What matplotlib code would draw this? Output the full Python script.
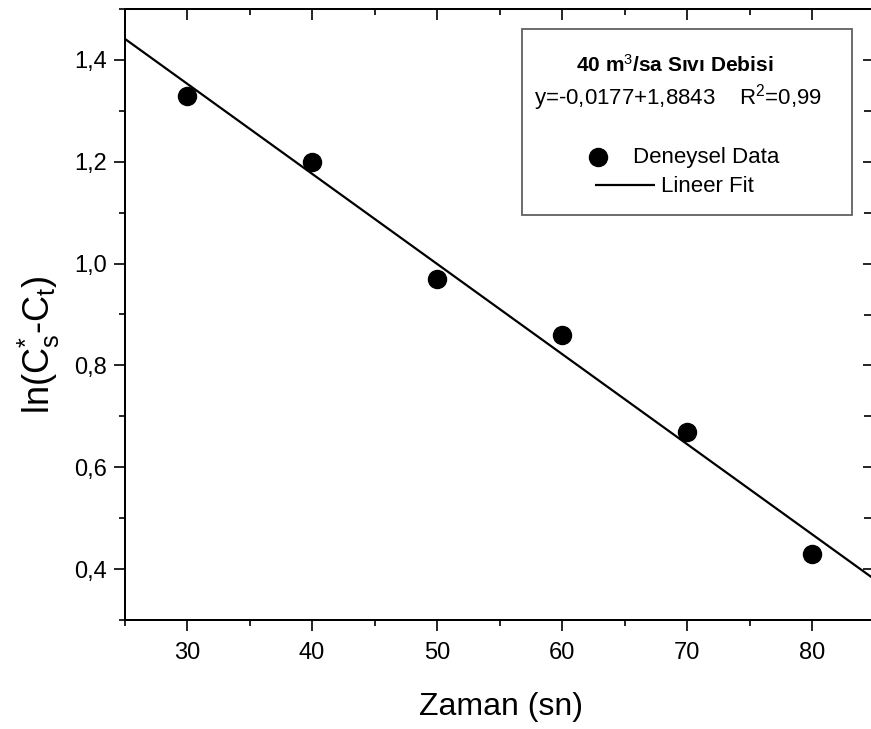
import matplotlib
matplotlib.use("Agg")
import matplotlib.pyplot as plt
from matplotlib.patches import Rectangle
from matplotlib.ticker import MultipleLocator, FixedLocator, FuncFormatter

plt.rcParams['font.family'] = ['Liberation Sans', 'DejaVu Sans']
plt.rcParams['mathtext.fontset'] = 'custom'
plt.rcParams['mathtext.rm'] = 'Liberation Sans'
plt.rcParams['mathtext.it'] = 'Liberation Sans:italic'
plt.rcParams['mathtext.bf'] = 'Liberation Sans:bold'

# ---- data ----
time_s = [30, 40, 50, 60, 70, 80]
ln_values = [1.33, 1.20, 0.97, 0.86, 0.67, 0.43]
fit_x = [25, 85]
fit_y = [1.4418, 0.3798]
x_ticks = [30, 40, 50, 60, 70, 80]
y_ticks = [0.4, 0.6, 0.8, 1.0, 1.2, 1.4]

W, H = 871, 729
fig = plt.figure(figsize=(W / 100, H / 100), dpi=100)
ax = fig.add_axes([124.6 / W, (H - 620) / H, 750 / W, 611 / H])

ax.set_xlim(25, 85)
ax.set_ylim(0.3, 1.5)

sc = ax.scatter(time_s, ln_values, s=169, color='black', zorder=3,
                label='Deneysel Data')
ln, = ax.plot(fit_x, fit_y, color='black', lw=1.6, label='Lineer Fit',
              solid_capstyle='butt')

ax.xaxis.set_major_locator(FixedLocator(x_ticks))
ax.xaxis.set_minor_locator(MultipleLocator(5))
ax.yaxis.set_major_locator(FixedLocator(y_ticks))
ax.yaxis.set_minor_locator(MultipleLocator(0.1))
ax.yaxis.set_major_formatter(FuncFormatter(lambda v, p: f"{v:.1f}".replace('.', ',')))
ax.xaxis.set_major_formatter(FuncFormatter(lambda v, p: f"{v:.0f}"))

for sp in ax.spines.values():
    sp.set_linewidth(1.4)

ax.tick_params(axis='both', which='major', direction='out', length=8, width=1.2,
               labelsize=17, pad=5, colors='black')
ax.tick_params(axis='both', which='minor', direction='out', length=4.5, width=1.2)
ax.tick_params(axis='x', which='major', pad=8)
ax.tick_params(axis='x', which='both', top=False)
ax.tick_params(axis='y', which='both', right=False)

# inward ticks on top/right
axt = ax.twiny()
axt.set_xlim(ax.get_xlim())
axt.xaxis.set_major_locator(FixedLocator(x_ticks))
axt.xaxis.set_minor_locator(MultipleLocator(5))
axt.tick_params(axis='x', which='major', direction='in', length=8, width=1.2,
                labeltop=False, top=True)
axt.tick_params(axis='x', which='minor', direction='in', length=4.5, width=1.2, top=True)
axr = ax.twinx()
axr.set_ylim(ax.get_ylim())
axr.yaxis.set_major_locator(FixedLocator(y_ticks))
axr.yaxis.set_minor_locator(MultipleLocator(0.1))
axr.tick_params(axis='y', which='major', direction='in', length=9, width=1.2,
                labelright=False, right=True)
axr.tick_params(axis='y', which='minor', direction='in', length=8, width=1.2, right=True)
for a in (axt, axr):
    for sp in a.spines.values():
        sp.set_linewidth(1.4)

# axis labels
fig.text(501 / W, (H - 707) / H, 'Zaman (sn)', fontsize=23, ha='center', va='center')
fig.text(39 / W, (H - 345) / H, r'ln(C$_{\mathrm{s}}^{\mathrm{*}}$-C$_{\mathrm{t}}$)',
         fontsize=26, ha='center', va='center', rotation=90)

# legend box
box = Rectangle((522 / W, (H - 215) / H), (852 - 522) / W, (215 - 29) / H,
                transform=fig.transFigure, facecolor='white', edgecolor='#606060',
                lw=1.3, zorder=5)
fig.patches.append(box)
fig.text(675 / W, (H - 65) / H, r'40 m$^{\mathrm{3}}$/sa Sıvı Debisi', fontsize=15,
         fontweight='bold', ha='center', va='center', zorder=6)
fig.text(678 / W, (H - 98) / H, r'y=-0,0177+1,8843    R$^{\mathrm{2}}$=0,99', fontsize=16,
         ha='center', va='center', zorder=6)

leg1 = fig.legend(handles=[sc], labels=['Deneysel Data'], loc='center left',
                  bbox_to_anchor=(592.5 / W, (H - 157) / H), frameon=False,
                  fontsize=16, handlelength=0.5, handletextpad=1.33,
                  borderpad=0, borderaxespad=0, scatterpoints=1)
leg1.set_zorder(7)
leg2 = fig.legend(handles=[ln], labels=['Lineer Fit'], loc='center left',
                  bbox_to_anchor=(595 / W, (H - 187) / H), frameon=False,
                  fontsize=16, handlelength=2.7, handletextpad=0.25,
                  borderpad=0, borderaxespad=0)
leg2.set_zorder(7)

fig.savefig('out.png', dpi=100)
